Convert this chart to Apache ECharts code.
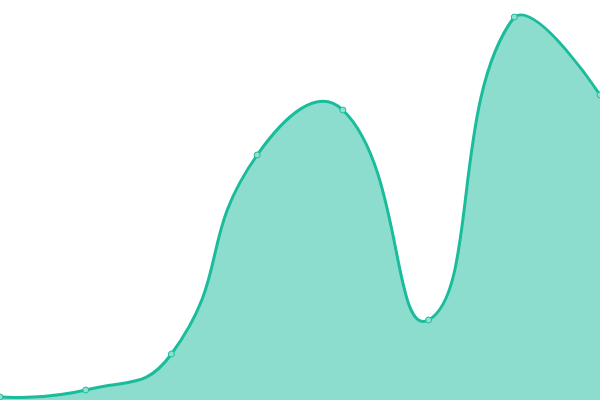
<!DOCTYPE html>
<html>
<head>
<meta charset="utf-8">
<script src="https://cdn.jsdelivr.net/npm/echarts@6/dist/echarts.min.js"></script>
<style>
  html, body { margin: 0; padding: 0; background: #fff; }
  #chart { width: 600px; height: 400px; }
</style>
</head>
<body>
<div id="chart"></div>
<script>
// 横轴类别与数值
const categories = ['1', '2', '3', '4', '5', '6', '7', '8']
const values = [3, 10, 46, 245, 290, 80, 383, 305]

const LINE_COLOR = '#1abc9c'
const SMOOTH = 0.5

// 旧版平滑曲线算法：切线方向取前后两点连线，控制点只限制在绘图区内
function smoothPath(pts, box) {
  const clamp = (p) => [
    Math.min(Math.max(p[0], box.x), box.x + box.width),
    Math.min(Math.max(p[1], box.y), box.y + box.height)
  ]
  let d = 'M' + pts[0][0] + ' ' + pts[0][1]
  let cp0 = pts[0].slice()
  for (let i = 1; i < pts.length; i++) {
    const p = pts[i]
    const prev = pts[i - 1]
    const next = pts[i + 1]
    let cp1
    let ratio = 0.5
    let v = [0, 0]
    if (!next) {
      cp1 = p.slice()
    } else {
      v = [next[0] - prev[0], next[1] - prev[1]]
      const lp = Math.hypot(p[0] - prev[0], p[1] - prev[1])
      const ln = Math.hypot(p[0] - next[0], p[1] - next[1])
      ratio = ln / (ln + lp)
      cp1 = [p[0] - v[0] * SMOOTH * (1 - ratio), p[1] - v[1] * SMOOTH * (1 - ratio)]
    }
    const a = clamp(cp0), b = clamp(cp1)
    d += ' C' + a[0] + ' ' + a[1] + ' ' + b[0] + ' ' + b[1] + ' ' + p[0] + ' ' + p[1]
    cp0 = [p[0] + v[0] * SMOOTH * ratio, p[1] + v[1] * SMOOTH * ratio]
  }
  return d
}

const chart = echarts.init(document.getElementById('chart'))

chart.setOption({
  animation: false,
  grid: { left: 0, right: 0, top: 0, bottom: 0 },
  xAxis: {
    type: 'category',
    data: categories,
    boundaryGap: false,
    show: false
  },
  yAxis: {
    type: 'value',
    min: 0,
    max: 400,
    show: false
  },
  series: [
    {
      type: 'custom',
      z: 1,
      data: values,
      renderItem(params, api) {
        if (params.dataIndex !== 0) return null
        const pts = values.map((val, i) => api.coord([i, val]))
        const base = api.coord([0, 0])[1]
        const top = smoothPath(pts, params.coordSys)
        const last = pts[pts.length - 1]
        const area = top + ' L' + last[0] + ' ' + base + ' L' + pts[0][0] + ' ' + base + ' Z'
        return {
          type: 'group',
          children: [
            {
              type: 'path',
              shape: { pathData: area },
              style: { fill: LINE_COLOR, opacity: 0.5, stroke: null }
            },
            {
              type: 'path',
              shape: { pathData: top },
              style: { fill: null, stroke: LINE_COLOR, lineWidth: 3 }
            }
          ]
        }
      }
    },
    {
      type: 'line',
      z: 3,
      data: values,
      symbol: 'circle',
      symbolSize: 6,
      lineStyle: { opacity: 0 },
      itemStyle: { color: '#8ee0d0', borderColor: LINE_COLOR, borderWidth: 1 }
    }
  ]
})
</script>
</body>
</html>
